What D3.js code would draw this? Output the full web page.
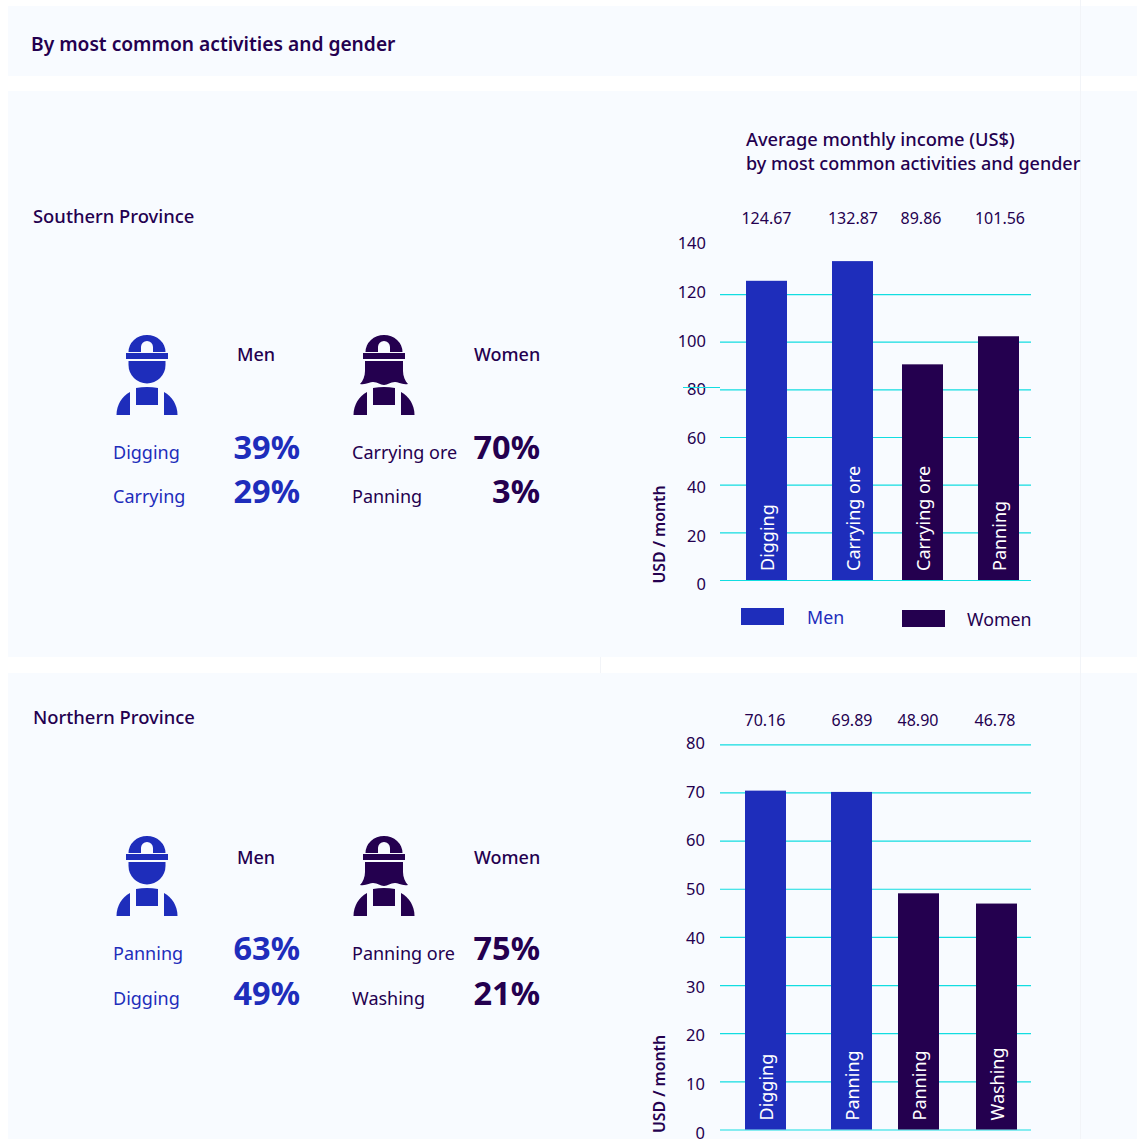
<!DOCTYPE html>
<html><head><meta charset="utf-8">
<script src="https://cdnjs.cloudflare.com/ajax/libs/d3/7.8.5/d3.min.js"></script>
<style>html,body{margin:0;padding:0;background:#fff}svg{display:block}text{font-family:"Noto Sans",sans-serif}</style>
</head><body><svg id="c" width="1137" height="1139"></svg>
<script>
const BLUE="#1e2dbb",DARK="#24004f",CYAN="#12dde1";
const pageTitle="By most common activities and gender";
const chartTitle=["Average monthly income (US$)","by most common activities and gender"];
const provinces=["Southern Province","Northern Province"];
const menActivities=[["Digging","Carrying"],["Panning","Digging"]];
const menShares=[[39,29],[63,49]];
const womenActivities=[["Carrying ore","Panning"],["Panning ore","Washing"]];
const womenShares=[[70,3],[75,21]];
const barLabels=[["Digging","Carrying ore","Carrying ore","Panning"],["Digging","Panning","Panning","Washing"]];
const barGender=["Men","Men","Women","Women"];
const southIncome=[124.67,132.87,89.86,101.56];
const northIncome=[70.16,69.89,48.90,46.78];
const southTicks=[0,20,40,60,80,100,120,140];
const northTicks=[0,10,20,30,40,50,60,70,80];
const southGrid=[0,20,40,60,80,100,120];
const northGrid=[0,10,20,30,40,50,60,70,80];

const svg=d3.select("#c");
const bg="#f8fbff";
[[8,6,1129,70],[8,91,1129,566],[8,673,1129,466]].forEach(r=>svg.append("rect").attr("x",r[0]).attr("y",r[1]).attr("width",r[2]).attr("height",r[3]).attr("fill",bg));
[[600,657,673],[1080,0,1139]].forEach(l=>svg.append("line").attr("x1",l[0]+.5).attr("x2",l[0]+.5).attr("y1",l[1]).attr("y2",l[2]).attr("stroke","#f2f4f8"));
function txt(g,s,x,y,size,weight,fill,anchor){return g.append("text").attr("x",x).attr("y",y).attr("font-size",size).attr("font-weight",weight).attr("fill",fill).attr("text-anchor",anchor||"start").text(s);}
txt(svg,pageTitle,31,51,19.2,600,DARK);
txt(svg,chartTitle[0],746,146,18.3,500,DARK);
txt(svg,chartTitle[1],746,170,18,500,DARK);

function icon(g,cx,top,color,woman){
  const a=g.append("g").attr("transform",`translate(${cx},${top})`).attr("fill",color);
  a.append("path").attr("d","M-18.5,17A18.5,17 0 0 1 18.5,17H6V12A6,6 0 0 0 -6,12V17Z");
  a.append("rect").attr("x",-21).attr("y",18).attr("width",42).attr("height",6);
  if(woman){
    a.append("path").attr("d","M-19,26H19V36C19,41 21,46 24,49C18,50 14,47 11,47C6,47 4,50 0,50C-4,50 -6,47 -11,47C-14,47 -18,50 -24,49C-21,46 -19,41 -19,36Z");
  }else{
    a.append("path").attr("d","M-18.5,26H18.5V30A18.5,18.5 0 0 1 -18.5,30Z");
  }
  a.append("path").attr("d","M-11,53Q0,51 11,53V70H-11Z");
  a.append("path").attr("d","M-17,57V80H-30.5C-30.5,70 -25,61 -17,57Z");
  a.append("path").attr("d","M17,57V80H30.5C30.5,70 25,61 17,57Z");
}

provinces.forEach((p,i)=>{
  const dy=i*501, g=svg.append("g");
  txt(g,p,33,223+dy,18.4,500,DARK);
  const off=i?2:0;
  icon(g,147,335+dy,BLUE,false);
  icon(g,384,335+dy,DARK,true);
  txt(g,"Men",237,361+dy+off,18,500,DARK);
  txt(g,"Women",474,361+dy+off,18,500,DARK);
  const ys=[459+dy,503+dy+(i?1:0)];
  menActivities[i].forEach((a,k)=>{
    txt(g,a,113,ys[k],18,400,BLUE);
    txt(g,menShares[i][k]+"%",300,ys[k],32.5,700,BLUE,"end");
    txt(g,womenActivities[i][k],352,ys[k],18,400,DARK);
    txt(g,womenShares[i][k]+"%",540,ys[k],32.5,700,DARK,"end");
  });
});

function bars(cfg){
  const g=svg.append("g");
  const idx=d3.range(cfg.values.length);
  const x=d3.scaleOrdinal().domain(idx).range(cfg.xs);
  const yBar=d3.scaleLinear().domain([0,cfg.max]).range([cfg.base,cfg.base-cfg.max*cfg.barK]);
  const yGrid=d3.scaleLinear().domain([0,cfg.max]).range([cfg.base,cfg.base-cfg.max*cfg.gridK]);
  const yLab=d3.scaleLinear().domain([0,cfg.max]).range([cfg.labBase,cfg.labBase-cfg.max*cfg.labK]);
  const grid=g.append("g").attr("transform","translate(720,0)").call(d3.axisRight(yGrid).tickValues(cfg.grid).tickSize(311).tickFormat(""));
  grid.select(".domain").remove();
  grid.selectAll("line").attr("stroke",CYAN).attr("stroke-width",1.2);
  const lab=g.append("g").attr("transform",`translate(${cfg.labX},0)`).call(d3.axisLeft(yLab).tickValues(cfg.ticks).tickSize(0).tickPadding(0).tickFormat(d3.format("d")));
  lab.select(".domain").remove();
  lab.selectAll("text").attr("font-size",16.5).attr("fill",DARK).attr("font-family",'"Noto Sans",sans-serif');
  g.selectAll(".b").data(cfg.values).join("rect").attr("x",(d,k)=>x(k)).attr("width",41)
    .attr("y",d=>yBar(d)).attr("height",d=>cfg.base-yBar(d)).attr("fill",(d,k)=>barGender[k]==="Men"?BLUE:DARK);
  g.selectAll(".v").data(cfg.values).join("text").attr("x",(d,k)=>cfg.valX[k]).attr("y",cfg.valY).attr("text-anchor","middle")
    .attr("font-size",16).attr("fill",DARK).text(d=>d.toFixed(2));
  g.selectAll(".l").data(cfg.labels).join("text")
    .attr("transform",(d,k)=>`translate(${x(k)+27.5},${cfg.base-9}) rotate(-90)`)
    .attr("font-size",18).attr("fill","#fff").text(d=>d);
  g.append("text").attr("transform",`translate(665,${cfg.base+3.5}) rotate(-90)`).attr("font-size",15.8).attr("font-weight",600).attr("fill",DARK).text("USD / month");
}
bars({values:southIncome,labels:barLabels[0],xs:[746,832,902,978],valX:[766.5,853,921,1000],valY:224,max:140,base:580,barK:2.4,gridK:2.383,labBase:584.5,labK:2.436,labX:706,ticks:southTicks,grid:southGrid});
bars({values:northIncome,labels:barLabels[1],xs:[745,831,898,976],valX:[765,852,918,995],valY:726,max:80,base:1129.5,barK:4.83,gridK:4.815,labBase:1133,labK:4.875,labX:705,ticks:northTicks,grid:northGrid});
svg.append("line").attr("x1",683).attr("x2",720).attr("y1",387.5).attr("y2",387.5).attr("stroke",CYAN).attr("stroke-width",1);
svg.append("rect").attr("x",741).attr("y",608).attr("width",43).attr("height",17).attr("fill",BLUE);
svg.append("rect").attr("x",902).attr("y",610).attr("width",43).attr("height",17).attr("fill",DARK);
txt(svg,"Men",807,624,17.8,400,BLUE);
txt(svg,"Women",967,626,17.8,400,DARK);
</script></body></html>
